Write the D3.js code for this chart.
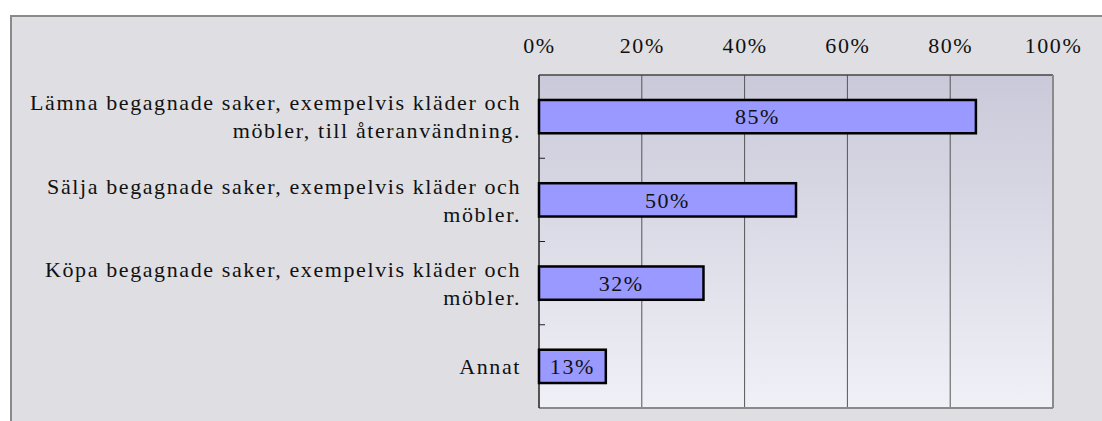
<!DOCTYPE html>
<html>
<head>
<meta charset="utf-8">
<script src="https://cdn.jsdelivr.net/npm/d3@7"></script>
<style>
  html, body { margin: 0; padding: 0; background: #ffffff; }
  svg { display: block; }
  text { font-family: "Liberation Serif", "DejaVu Serif", serif; fill: #111; letter-spacing: 1.6px; }
</style>
</head>
<body>
<svg id="chart" width="1102" height="421"></svg>
<script>
// Answer categories (each entry is a list of label lines)
const categories = [
  ["Lämna begagnade saker, exempelvis kläder och", "möbler, till återanvändning."],
  ["Sälja begagnade saker, exempelvis kläder och", "möbler."],
  ["Köpa begagnade saker, exempelvis kläder och", "möbler."],
  ["Annat"]
];
// Share of respondents (%)
const values = [85, 50, 32, 13];
const tickValues = [0, 20, 40, 60, 80, 100];

const FONT_SIZE = "22px";
const svg = d3.select("#chart");

// Outer frame
svg.append("rect")
  .attr("x", 11).attr("y", 16)
  .attr("width", 1200).attr("height", 500)
  .attr("fill", "#dfdfe3")
  .attr("stroke", "#8a8a8a")
  .attr("stroke-width", 2);

const plot = { left: 539, right: 1053, top: 75, bottom: 408 };

const x = d3.scaleLinear().domain([0, 100]).range([plot.left, plot.right]);
const y = d3.scaleBand()
  .domain(d3.range(categories.length))
  .range([plot.top, plot.bottom])
  .paddingInner(0.6)
  .paddingOuter(0.3);

// Plot area gradient
const defs = svg.append("defs");
const grad = defs.append("linearGradient")
  .attr("id", "plotBg").attr("x1", 0).attr("y1", 0).attr("x2", 0).attr("y2", 1);
grad.append("stop").attr("offset", "0%").attr("stop-color", "#c9c9d9");
grad.append("stop").attr("offset", "100%").attr("stop-color", "#f0f0f7");

svg.append("rect")
  .attr("x", plot.left).attr("y", plot.top)
  .attr("width", plot.right - plot.left).attr("height", plot.bottom - plot.top)
  .attr("fill", "url(#plotBg)");

// Vertical gridlines
svg.append("g")
  .selectAll("line")
  .data(tickValues.slice(1, -1))
  .join("line")
  .attr("x1", d => x(d)).attr("x2", d => x(d))
  .attr("y1", plot.top).attr("y2", plot.bottom)
  .attr("stroke", "#555")
  .attr("stroke-width", 1);

// Plot border: top dark, right and bottom grey
svg.append("line")
  .attr("x1", plot.left).attr("x2", plot.right)
  .attr("y1", plot.top).attr("y2", plot.top)
  .attr("stroke", "#444").attr("stroke-width", 1.5);
svg.append("line")
  .attr("x1", plot.right).attr("x2", plot.right)
  .attr("y1", plot.top).attr("y2", plot.bottom)
  .attr("stroke", "#8a8a8a").attr("stroke-width", 2);
svg.append("line")
  .attr("x1", plot.left).attr("x2", plot.right)
  .attr("y1", plot.bottom).attr("y2", plot.bottom)
  .attr("stroke", "#8a8a8a").attr("stroke-width", 2);

// Top axis with percentage labels
const xAxis = d3.axisTop(x)
  .tickValues(tickValues)
  .tickFormat(d => d + "%")
  .tickSize(0)
  .tickPadding(0);
const gx = svg.append("g")
  .attr("transform", `translate(0, 53)`)
  .call(xAxis);
gx.select(".domain").remove();
gx.selectAll("text")
  .style("font-family", "'Liberation Serif', serif")
  .style("font-size", FONT_SIZE)
  .style("letter-spacing", "1.6px")
  .attr("fill", "#111");

// Left axis line and category separators
svg.append("line")
  .attr("x1", plot.left).attr("x2", plot.left)
  .attr("y1", plot.top).attr("y2", plot.bottom)
  .attr("stroke", "#222").attr("stroke-width", 1.5);
svg.append("g")
  .selectAll("line")
  .data(d3.range(1, categories.length))
  .join("line")
  .attr("x1", plot.left).attr("x2", plot.left + 6)
  .attr("y1", i => plot.top + i * (plot.bottom - plot.top) / categories.length)
  .attr("y2", i => plot.top + i * (plot.bottom - plot.top) / categories.length)
  .attr("stroke", "#222").attr("stroke-width", 1);

// Bars
const bars = svg.append("g");
bars.selectAll("rect")
  .data(values)
  .join("rect")
  .attr("x", x(0))
  .attr("y", (d, i) => y(i))
  .attr("width", d => x(d) - x(0))
  .attr("height", y.bandwidth())
  .attr("fill", "#9999ff")
  .attr("stroke", "#000")
  .attr("stroke-width", 2.5);

// Value labels in the bars
bars.selectAll("text")
  .data(values)
  .join("text")
  .attr("x", d => (x(0) + x(d)) / 2)
  .attr("y", (d, i) => y(i) + y.bandwidth() / 2)
  .attr("dy", "0.35em")
  .attr("text-anchor", "middle")
  .style("font-size", FONT_SIZE)
  .attr("fill", "#222")
  .text(d => d + "%");

// Category labels
const cat = svg.append("g");
categories.forEach((lines, i) => {
  const cy = y(i) + y.bandwidth() / 2;
  const lh = 28;
  const t = cat.append("text")
    .attr("text-anchor", "end")
    .style("font-size", FONT_SIZE);
  lines.forEach((ln, j) => {
    t.append("tspan")
      .attr("x", 521)
      .attr("y", cy + (j - (lines.length - 1) / 2) * lh)
      .attr("dy", "0.35em")
      .text(ln);
  });
});
</script>
</body>
</html>
